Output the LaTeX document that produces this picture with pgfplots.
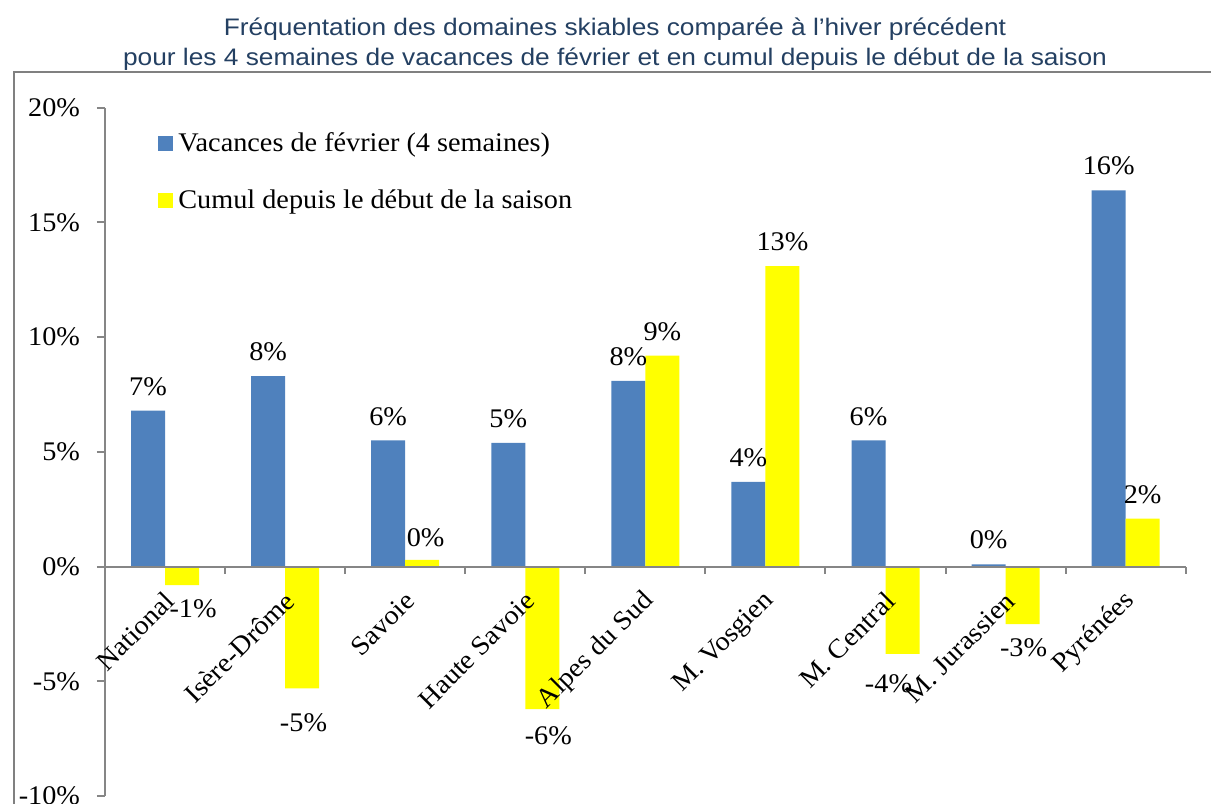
\documentclass[border=0pt]{standalone}
\usepackage{fontspec}
\setmainfont[FakeStretch=1.05]{Liberation Serif}
\newfontfamily\titlefont[FakeStretch=1.1]{Liberation Sans}
\usepackage{pgfplots}
\pgfplotsset{compat=1.18}
\usepackage{pgfplotstable}
\usetikzlibrary{calc}
\definecolor{barblue}{RGB}{79,129,189}
\definecolor{baryellow}{RGB}{255,255,0}
\definecolor{axisgray}{RGB}{134,134,134}
\definecolor{framegray}{RGB}{128,128,128}
\definecolor{titleblue}{RGB}{36,64,98}

\pgfplotstableread{
x blue bl bdx bdy yel yl ydx ydy
0 6.8 7 0 12 -0.8 -1 5.5 -12
1 8.3 8 0 12 -5.3 -5 0.7 -17.2
2 5.5 6 0 12 0.3 0 1.7 10.9
3 5.4 5 0 12 -6.2 -6 3 -13.3
4 8.1 8 0 12 9.2 9 0 12
5 3.7 4 0 12 13.1 13 0 12
6 5.5 6 0 12 -3.8 -4 -7 -14.8
7 0.1 0 0 12.5 -2.5 -3 0.5 -11.7
8 16.4 16 0 12.5 2.1 2 0 12
}\data

\newcommand{\lblfont}{\fontsize{13.5}{16}\selectfont}

\begin{document}
\begin{tikzpicture}
\begin{axis}[
  scale only axis, width=540.35bp, height=344.25bp,
  ymin=-10, ymax=20, xmin=-0.5, xmax=8.5,
  axis x line=middle, axis y line=left,
  axis line style={-, draw=axisgray, line width=1bp},
  axis on top,
  tick align=outside,
  every tick/.style={draw=axisgray, line width=1bp},
  major tick length=4bp, minor tick length=3.5bp,
  /pgf/number format/assume math mode=true,
  ybar=0pt, bar width=17bp,
  ytick={-10,-5,...,20},
  yticklabel={\pgfmathprintnumber{\tick}\%},
  yticklabel style={font=\lblfont, xshift=-5bp},
  xtick={0,...,8},
  xticklabels={National, Isère-Drôme, Savoie, Haute Savoie, Alpes du Sud, M. Vosgien, M. Central, M. Jurassien, Pyrénées},
  minor xtick={-0.5,0.5,...,8.5},
  major x tick style={draw=none},
  xticklabel style={rotate=45, anchor=east, font=\lblfont, inner sep=0pt, xshift=-6bp, yshift=-9.5bp},
  clip=false,
  legend style={at={(rel axis cs:0,1)}, anchor=north west, xshift=26.5bp, yshift=-12.25bp,
    draw=none, fill=none, inner sep=0pt, row sep=17.5bp, font=\lblfont,
    nodes={inner sep=0pt, anchor=west},
    /tikz/every odd column/.append style={column sep=2.5bp}},
  legend image code/.code={\fill[#1] (0bp,-3.75bp) rectangle (7.5bp,3.75bp);},
  legend cell align=left,
  nodes near coords align={center},
]
\addplot[fill=barblue, draw=none, point meta=explicit,
  nodes near coords={\pgfmathprintnumber{\pgfplotspointmeta}\%},
  visualization depends on={\thisrow{bdx} \as \dx},
  visualization depends on={\thisrow{bdy} \as \dy},
  every node near coord/.append style={anchor=center, xshift=\dx bp, yshift=\dy bp, font=\lblfont, inner sep=0pt}]
  table[x=x, y=blue, meta=bl] {\data};
\addlegendentry{Vacances de février (4 semaines)}
\addplot[fill=baryellow, draw=none, point meta=explicit,
  nodes near coords={\pgfmathprintnumber{\pgfplotspointmeta}\%},
  visualization depends on={\thisrow{ydx} \as \dx},
  visualization depends on={\thisrow{ydy} \as \dy},
  every node near coord/.append style={anchor=center, xshift=\dx bp, yshift=\dy bp, font=\lblfont, inner sep=0pt}]
  table[x=x, y=yel, meta=yl] {\data};
\addlegendentry{Cumul depuis le début de la saison}
\coordinate (sw) at (rel axis cs:0,0);
\coordinate (ne) at (rel axis cs:1,1);
\end{axis}
\draw[framegray, line width=1bp] ($(sw)+(-45.5bp,-20bp)$) |- ($(ne)+(30bp,18bp)$);
\node[anchor=base, font=\titlefont\fontsize{12}{14}\selectfont, text=titleblue, inner sep=0pt]
  at ($(sw|-ne)+(255bp,36bp)$) {Fréquentation des domaines skiables comparée à l’hiver précédent};
\node[anchor=base, font=\titlefont\fontsize{12}{14}\selectfont, text=titleblue, inner sep=0pt]
  at ($(sw|-ne)+(255bp,21bp)$) {pour les 4 semaines de vacances de février et en cumul depuis le début de la saison};
\pgfresetboundingbox
\path[use as bounding box] ($(sw)+(-52.5bp,-3.4bp)$) rectangle ($(ne)+(12.65bp,53.85bp)$);
\end{tikzpicture}
\end{document}
